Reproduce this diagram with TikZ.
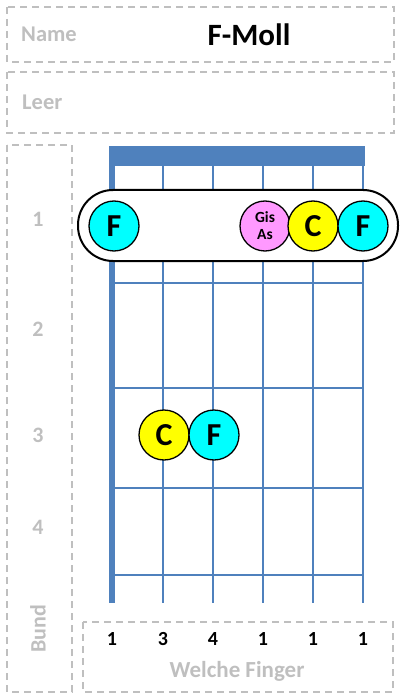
\documentclass[tikz,border=0pt]{standalone}
\usepackage{fontspec}
\setmainfont{Carlito}
\definecolor{lbl}{RGB}{191,191,191}
\definecolor{fret}{RGB}{79,129,189}
\definecolor{noteC}{RGB}{255,255,0}
\definecolor{noteF}{RGB}{0,255,255}
\definecolor{noteAs}{RGB}{255,153,255}
\tikzset{
  dbox/.style={draw=lbl, line width=1.3pt, dash pattern=on 7pt off 5pt},
  glabel/.style={text=lbl, font=\bfseries\fontsize{22}{24}\selectfont, inner sep=0pt},
  note/.style={circle, draw=black, line width=1.3pt, minimum size=50pt, inner sep=0pt, font=\bfseries\fontsize{32}{32}\selectfont},
  smallnote/.style={note, font=\bfseries\fontsize{15.5}{17}\selectfont, align=center},
  finger/.style={font=\bfseries\fontsize{20}{20}\selectfont, inner sep=0pt},
  stringline/.style={draw=fret, line width=2.6pt},
  fretline/.style={draw=fret, line width=2.6pt},
}
\begin{document}
\begin{tikzpicture}[x=1pt, y=-1pt]
\useasboundingbox (0,0) rectangle (409,700);
% boxes
\draw[dbox] (7,7) rectangle (394,62);
\draw[dbox] (7,72) rectangle (394,133);
\draw[dbox] (7,145) rectangle (72,692);
\draw[dbox] (83,622) rectangle (393,692);
% labels
\node[glabel, font=\bfseries\fontsize{22.5}{24}\selectfont, anchor=west] (name) at (21,34) {Name};
\node[font=\bfseries\fontsize{31}{31}\selectfont, inner sep=0pt] (title) at (249,35) {F-Moll};
\node[glabel, font=\bfseries\fontsize{22.5}{24}\selectfont, anchor=west] (leer) at (22,102) {Leer};
\node[glabel] (b1) at (38,219) {1};
\node[glabel] (b2) at (38,329) {2};
\node[glabel] (b3) at (38,435) {3};
\node[glabel] (b4) at (38,527) {4};
\node[glabel, rotate=90] (bund) at (38,629) {Bund};
\node[glabel, font=\bfseries\fontsize{23}{24}\selectfont] (welche) at (237,671) {Welche Finger};
% fretboard
\fill[fret] (109,146) rectangle (365,166);
\foreach \x in {163,213,263,313,363} \draw[stringline] (\x,160) -- (\x,603);
\fill[fret] (109,160) rectangle (115,603);
\foreach \y in {283,388,488,575} \draw[fretline] (112,\y) -- (364,\y);
% barre
\draw[fill=white, line width=2pt, rounded corners=35pt] (78,190) rectangle (398,261);
% notes
\node[note, fill=noteF] (n1) at (114,226) {F};
\node[smallnote, fill=noteAs] (n2) at (265,226) {Gis\\As};
\node[note, fill=noteC] (n3) at (313,226) {C};
\node[note, fill=noteF] (n4) at (363,226) {F};
\node[note, fill=noteC] (n5) at (164,435) {C};
\node[note, fill=noteF] (n6) at (214,435) {F};
% finger numbers
\node[finger] (f1) at (112,639) {1};
\node[finger] (f2) at (163,639) {3};
\node[finger] (f3) at (213,639) {4};
\node[finger] (f4) at (263,639) {1};
\node[finger] (f5) at (313,639) {1};
\node[finger] (f6) at (363,639) {1};
\end{tikzpicture}
\end{document}
